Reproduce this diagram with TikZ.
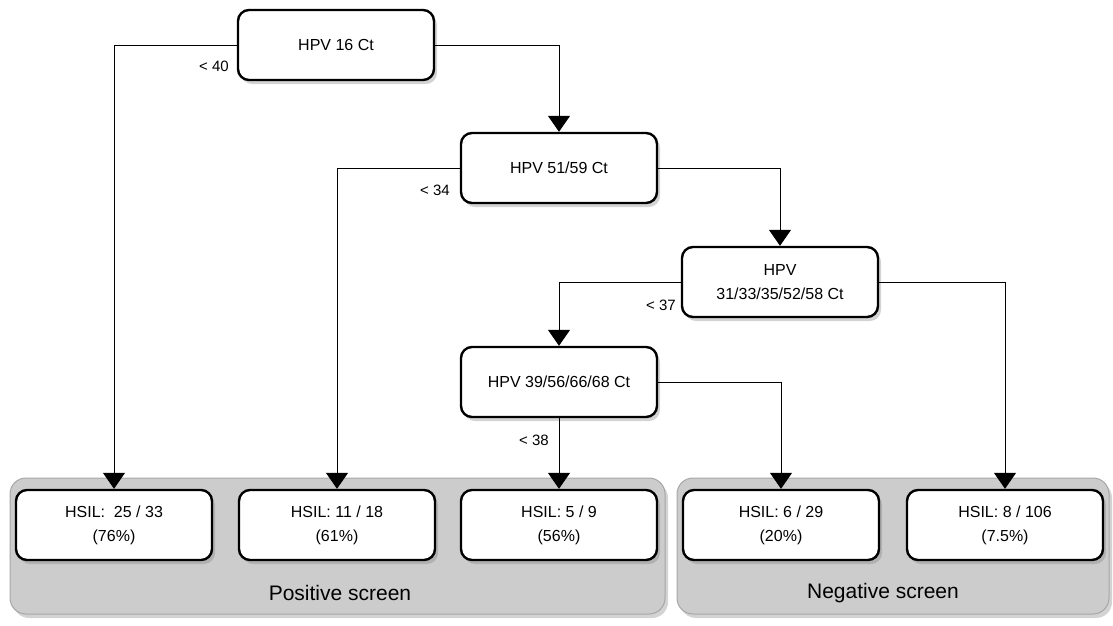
\documentclass[tikz,border=0pt]{standalone}
\usepackage{fontspec}
\setmainfont{Liberation Sans}
\usetikzlibrary{arrows.meta,shadows}
\begin{document}
\begin{tikzpicture}[x=1pt,y=-1pt,
  box/.style={draw=black,line width=2.4pt,fill=white,rounded corners=11pt,
    minimum width=196pt,minimum height=70pt,align=center,font=\fontsize{16}{24}\selectfont,
    drop shadow={opacity=0.35,shadow xshift=3pt,shadow yshift=-4pt}},
  panel/.style={draw=black!35,line width=1pt,fill=black!20,rounded corners=16pt,
    drop shadow={opacity=0.35,shadow xshift=3pt,shadow yshift=-4pt}},
  conn/.style={draw=black,line width=1pt},
  arr/.style={conn,-{Triangle[width=22pt,length=16pt]}},
  lbl/.style={font=\fontsize{15}{18}\selectfont,inner sep=0pt},
  plbl/.style={font=\fontsize{21}{25}\selectfont,inner sep=0pt}]
\useasboundingbox (0,0) rectangle (1113,625);
% panels
\path[panel] (10,478) rectangle (665,614);
\path[panel] (677,478) rectangle (1109,614);
\node[plbl] (pos) at (340,593) {Positive screen};
\node[plbl] (neg) at (883,593) {Negative screen};
% decision nodes
\node[box] (a) at (336,45) {HPV 16 Ct};
\node[box] (b) at (559,168) {HPV 51/59 Ct};
\node[box] (c) at (780,282) {HPV\\31/33/35/52/58 Ct};
\node[box] (d) at (559,382) {HPV 39/56/66/68 Ct};
% leaves
\node[box] (l1) at (114,525) {HSIL:\ \ 25 / 33\\(76\%)};
\node[box] (l2) at (337,525) {HSIL: 11 / 18\\(61\%)};
\node[box] (l3) at (559,525) {HSIL: 5 / 9\\(56\%)};
\node[box] (l4) at (781,525) {HSIL: 6 / 29\\(20\%)};
\node[box] (l5) at (1005,525) {HSIL: 8 / 106\\(7.5\%)};
% connectors
\draw[arr] (a.west) -| (l1.north);
\draw[arr] (a.east) -| (b.north);
\draw[arr] (b.west) -| (l2.north);
\draw[arr] (b.east) -| (c.north);
\draw[arr] (c.west) -| (d.north);
\draw[arr] (c.east) -| (l5.north);
\draw[arr] (d.east) -| (l4.north);
\draw[arr] (d.south) -- (l3.north);
% labels
\node[lbl,anchor=east] (t1) at (229,66) {< 40};
\node[lbl,anchor=east] (t2) at (450,190) {< 34};
\node[lbl,anchor=east] (t3) at (676,305) {< 37};
\node[lbl,anchor=east] (t4) at (549,440) {< 38};
\end{tikzpicture}
\end{document}
